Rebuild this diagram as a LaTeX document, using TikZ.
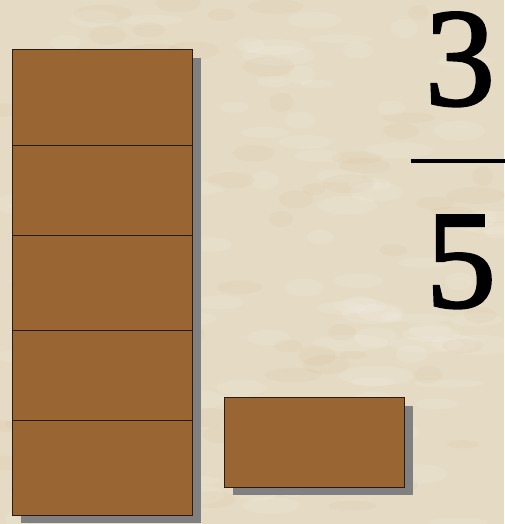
\documentclass[tikz,border=0pt]{standalone}
\usepackage{fontspec}
\setmainfont{Liberation Serif}
\newfontfamily\fracfont[FakeBold=1.8]{Liberation Serif}
\usepackage{xcolor}
\usetikzlibrary{positioning, shadows}
\definecolor{parchment}{RGB}{229,219,197}
\definecolor{woodbrown}{RGB}{153,102,51}
\definecolor{woodedge}{RGB}{40,28,18}

\begin{document}
\begin{tikzpicture}[x=1pt, y=-1pt,
  every node/.style={inner sep=0pt, outer sep=0pt},
  brick/.style={rectangle, fill=woodbrown, draw=woodedge, line width=1pt,
    minimum width=180pt, anchor=north west,
    drop shadow={shadow xshift=8pt, shadow yshift=-8pt, fill=gray, opacity=1}},
  digit/.style={font=\fracfont\fontsize{140}{140}\selectfont, anchor=base,
    text height=95pt, text depth=3pt}]
  \useasboundingbox (0,0) rectangle (504,524);
  \fill[parchment] (0,0) rectangle (504,524);
  % mottled paper
  \pgfmathsetseed{7}
  \foreach \i in {1,...,110}
    \fill[white,opacity=0.09] (252+252*rand,262+262*rand) ellipse ({24+14*rand} and {7+3*rand});
  \foreach \i in {1,...,70}
    \fill[brown,opacity=0.05] (252+252*rand,262+262*rand) ellipse ({20+10*rand} and {7+3*rand});
  % stack of fifths
  \node[brick,minimum height=95.5pt] (b1) at (12.5,50) {};
  \node[brick,minimum height=90pt,below=0pt of b1.south west,anchor=north west] (b2) {};
  \node[brick,minimum height=95pt,below=0pt of b2.south west,anchor=north west] (b3) {};
  \node[brick,minimum height=90pt,below=0pt of b3.south west,anchor=north west] (b4) {};
  \node[brick,minimum height=94.5pt,below=0pt of b4.south west,anchor=north west] (b5) {};
  % single piece
  \node[brick,minimum height=89.5pt] (piece) at (224.5,397.5) {};
  % fraction
  \node[digit] (num) at (460,105) {3};
  \node[digit] (den) at (461,307) {5};
  \draw[line width=4pt] (411,161) -- (506,161);
\end{tikzpicture}
\end{document}
